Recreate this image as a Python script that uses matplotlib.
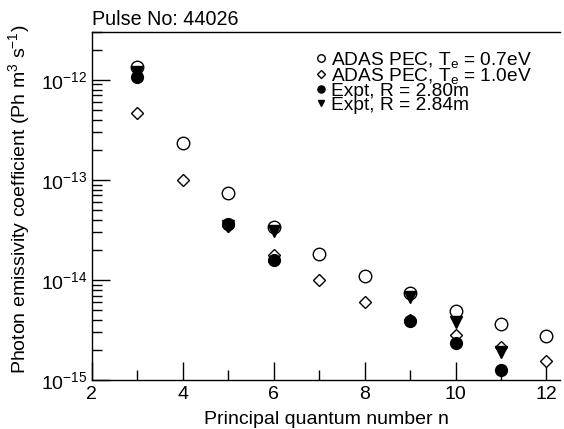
import numpy as np
import matplotlib
matplotlib.use("Agg")
import matplotlib.pyplot as plt
from matplotlib.ticker import LogLocator, NullFormatter, MultipleLocator

#########################
# Data (pulse 44026)
n_adas = [3, 4, 5, 6, 7, 8, 9, 10, 11, 12]
pec_07 = [1.35e-12, 2.34e-13, 7.4e-14, 3.4e-14, 1.82e-14, 1.1e-14, 7.4e-15, 4.9e-15, 3.6e-15, 2.75e-15]
pec_10 = [4.7e-13, 1.0e-13, 3.5e-14, 1.78e-14, 1.0e-14, 6.0e-15, 4.0e-15, 2.8e-15, 2.15e-15, 1.55e-15]

n_expt = [3, 5, 6, 9, 10, 11]
expt_280 = [1.07e-12, 3.6e-14, 1.58e-14, 3.9e-15, 2.34e-15, 1.26e-15]
expt_284 = [1.2e-12, 3.5e-14, 3.1e-14, 6.8e-15, 3.8e-15, 1.9e-15]

labels = [r"ADAS PEC, T$_\mathregular{e}$ = 0.7eV",
          r"ADAS PEC, T$_\mathregular{e}$ = 1.0eV",
          "Expt, R = 2.80m",
          "Expt, R = 2.84m"]
#########################

plt.rcParams['font.family'] = ['Liberation Sans', 'DejaVu Sans']
plt.rcParams['mathtext.fontset'] = 'custom'
plt.rcParams['mathtext.rm'] = 'Liberation Sans'
plt.rcParams['mathtext.it'] = 'Liberation Sans:italic'
plt.rcParams['font.size'] = 14
plt.rcParams['xtick.direction'] = 'in'
plt.rcParams['ytick.direction'] = 'in'

fig = plt.figure(figsize=(5.64, 4.29), dpi=100)
ax = fig.add_axes([0.163, 0.114, 0.830, 0.811])

ax.plot(n_adas, pec_07, 'o', ms=9, mfc='white', mec='black', mew=1.0, label=labels[0])
ax.plot(n_adas, pec_10, 'D', ms=6.5, mfc='white', mec='black', mew=1.0, label=labels[1])
ax.plot(n_expt, expt_280, 'o', ms=8.5, mfc='black', mec='black', label=labels[2])
ax.plot(n_expt, expt_284, 'v', ms=8, mfc='black', mec='black', label=labels[3])

ax.set_yscale('log')
ax.set_xlim(2, 12.3)
ax.set_ylim(1e-15, 3e-12)

ax.xaxis.set_major_locator(MultipleLocator(2))
ax.xaxis.set_minor_locator(MultipleLocator(1))
ax.yaxis.set_major_locator(LogLocator(base=10))
ax.yaxis.set_minor_locator(LogLocator(base=10, subs=np.arange(2, 10)))
ax.yaxis.set_minor_formatter(NullFormatter())
ax.tick_params(which='major', length=13, width=1)
ax.tick_params(which='minor', length=7, width=1)
ax.tick_params(axis='both', labelsize=14)
ax.tick_params(axis='x', pad=4)
ax.tick_params(axis='y', pad=3)

ax.spines['right'].set_visible(False)
for s in ['left', 'bottom', 'top']:
    ax.spines[s].set_linewidth(1)

ax.set_xlabel("Principal quantum number n", fontsize=14, labelpad=6)
ax.set_ylabel(r"Photon emissivity coefficient (Ph m$^\mathregular{3}$ s$^\mathregular{-1}$)",
              fontsize=14)
ax.yaxis.set_label_coords(-0.128, 0.52)
ax.set_title("Pulse No: 44026", loc='left', fontsize=14.2, pad=5)

leg = ax.legend(loc='upper left', bbox_to_anchor=(0.462, 0.972), frameon=False,
                markerscale=0.6, handlelength=0.5, handletextpad=0.3,
                labelspacing=-0.18, borderaxespad=0.0, fontsize=13.8)

fig.savefig("out.png", dpi=100)
